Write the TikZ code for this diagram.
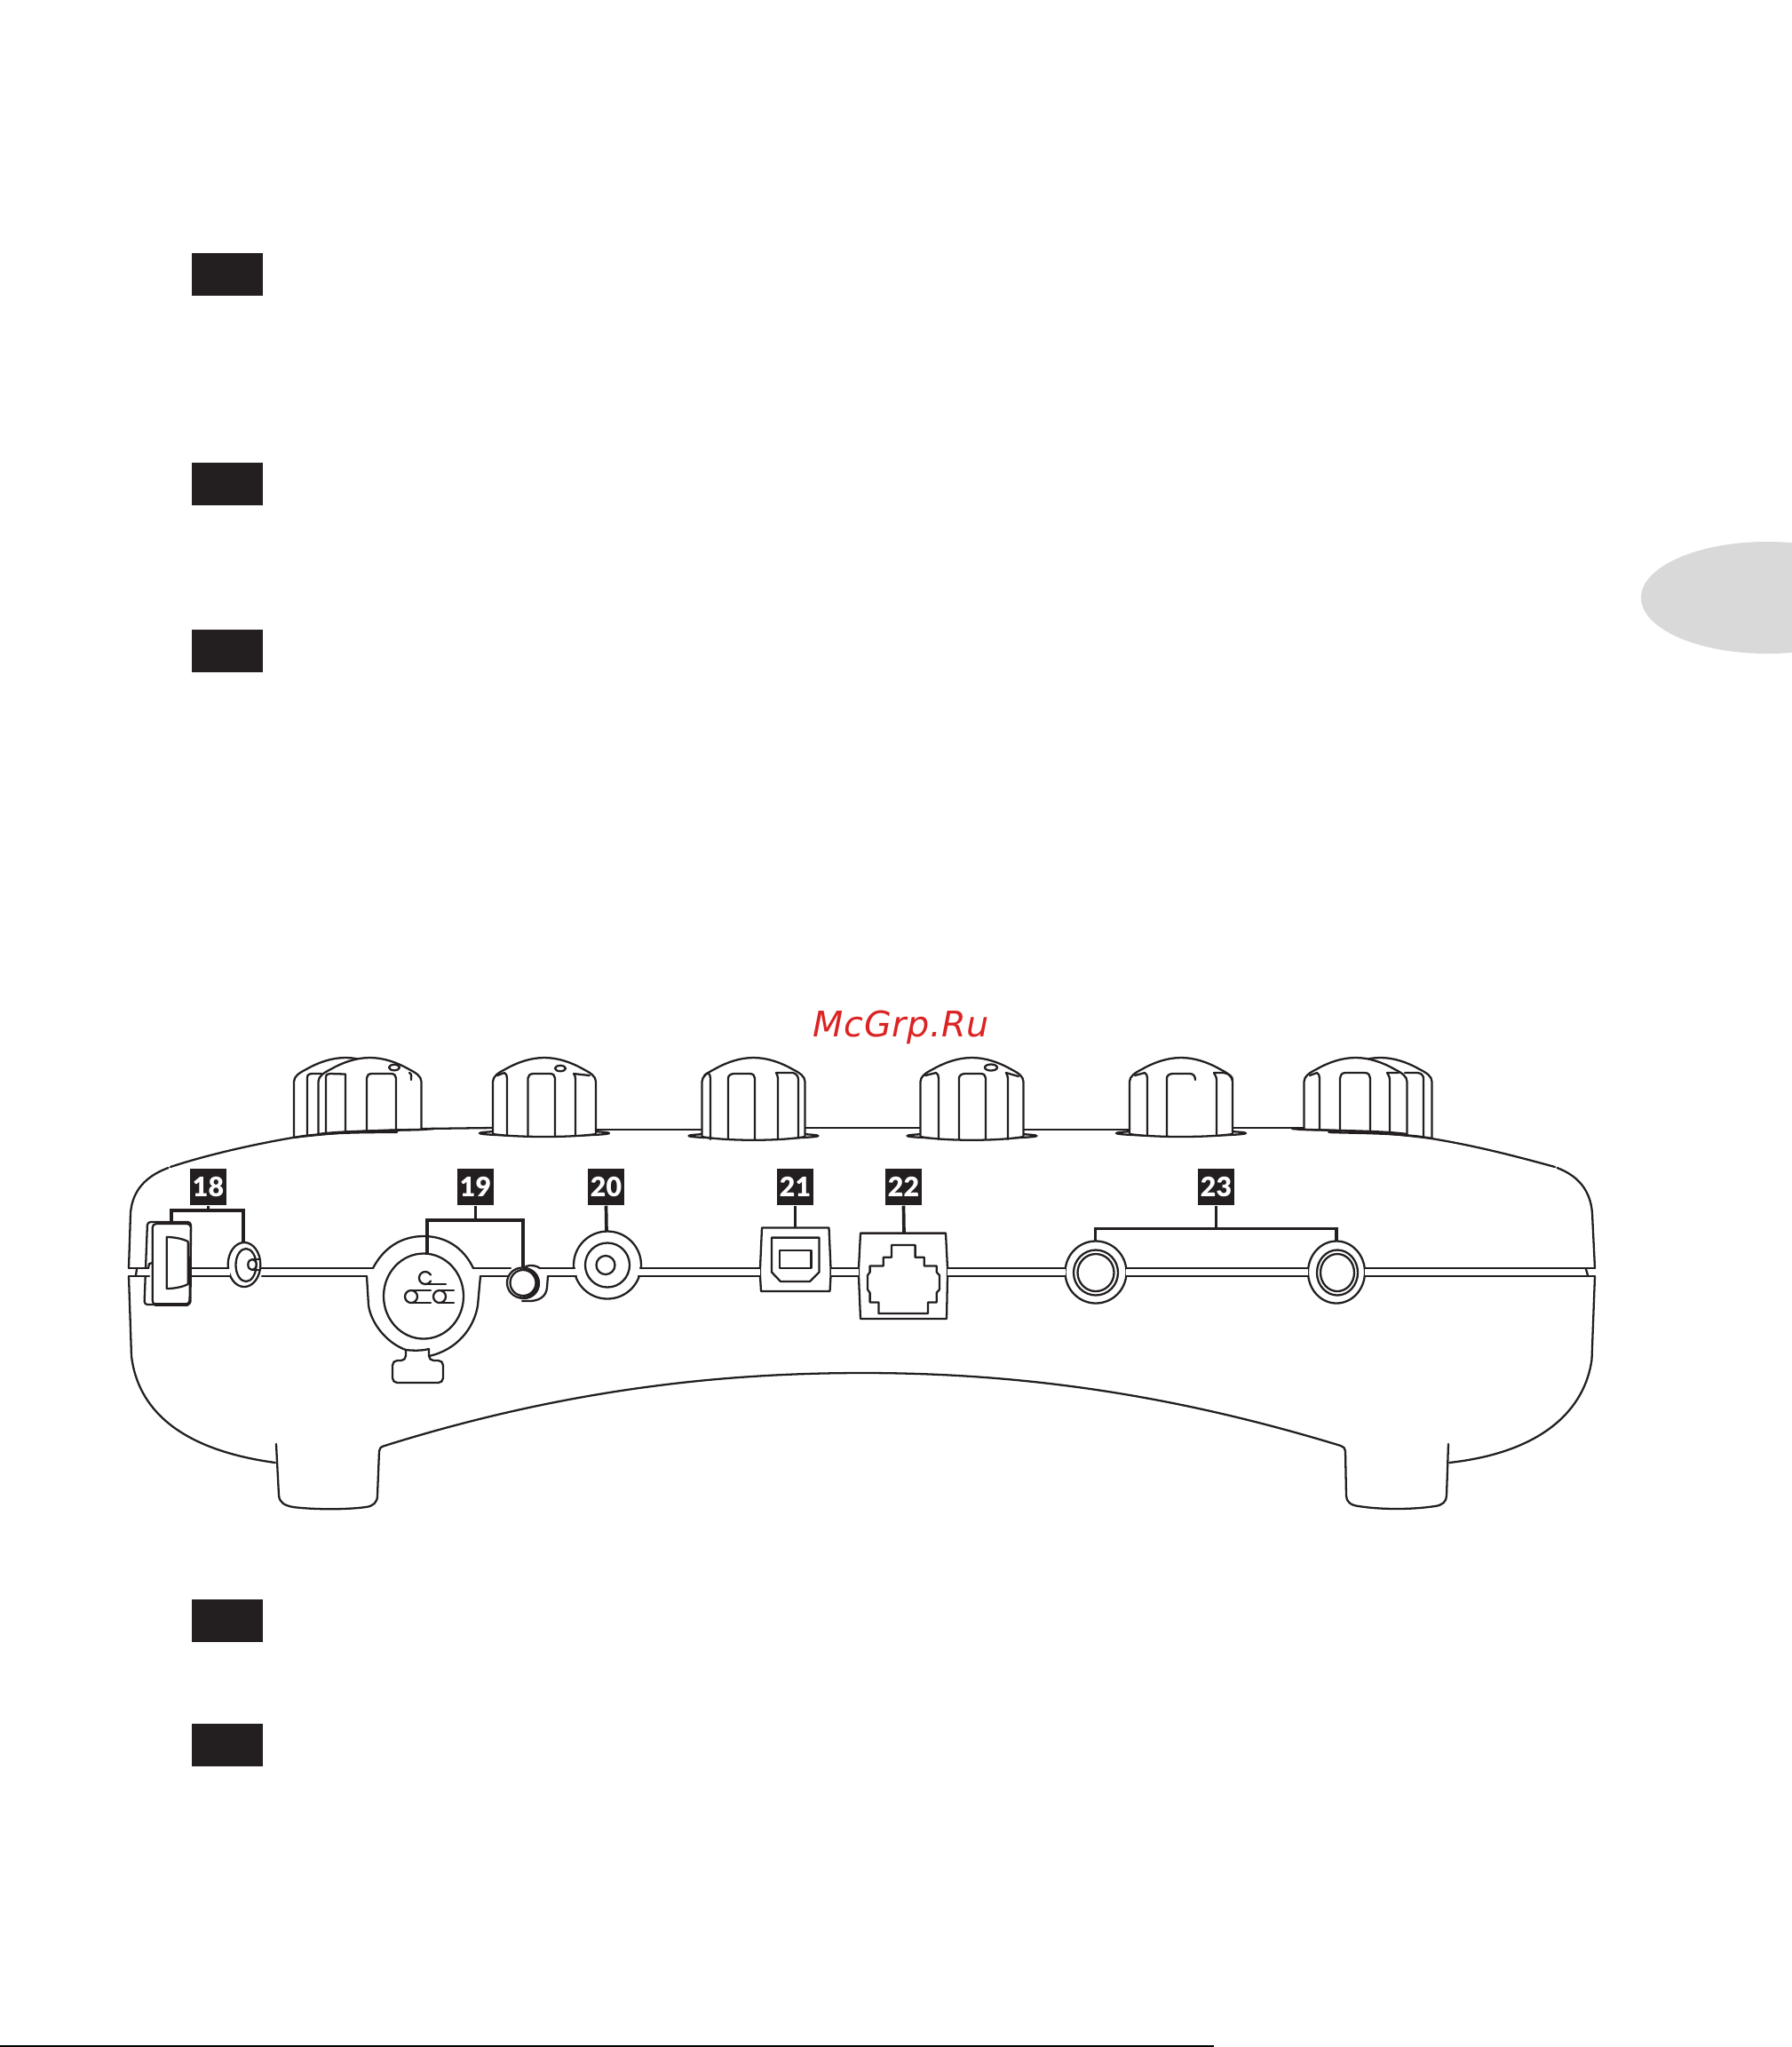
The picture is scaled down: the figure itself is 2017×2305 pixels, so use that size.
\documentclass[tikz,border=0pt]{standalone}
\usepackage{fontspec}
\setmainfont{Lato}
\newfontfamily\tagfont{Lato Black}
\newfontfamily\markfont[LetterSpace=1.6]{DejaVu Sans}
\definecolor{inkblack}{HTML}{231F20}
\definecolor{tabgray}{HTML}{D9D9D9}
\definecolor{markred}{HTML}{DC2323}
\tikzset{
  bodyline/.style={draw=inkblack, line width=0.65pt, line cap=round, line join=round},
  leadline/.style={draw=inkblack, line width=1.05pt},
  tagbox/.style={fill=inkblack, text=white, inner sep=0pt, minimum width=0.41cm, minimum height=0.41cm, font=\tagfont\fontsize{8.6}{9}\selectfont},
  blockbox/.style={fill=inkblack, inner sep=0pt, minimum width=0.8cm, minimum height=0.48cm},
}
% one knob around x=0, bottoms of left and right side, control height of the base
\newcommand{\knobbody}[3]{
  \draw[bodyline, fill=white] (-58,#1)--(-58,1218) .. controls (-58,1212) and (-52,1208) .. (-44,1204)
    .. controls (-30,1196) and (-15,1191) .. (0,1191) .. controls (15,1191) and (30,1196) .. (44,1204)
    .. controls (52,1208) and (58,1212) .. (58,1218)--(58,#2) .. controls (30,#3) and (-30,#3) .. (-58,#1);
}
\begin{document}
\begin{tikzpicture}[x=0.01cm, y=-0.01cm]
  \useasboundingbox (0,0) rectangle (2017,2305);
  \fill[tabgray] (1990,673) ellipse [x radius=142, y radius=63];
  \foreach \boxy in {309,545,733,1825,1965}
    \node[blockbox] (block\boxy) at (256,\boxy) {};
  \fill[black] (0,2303) rectangle (1367,2305);
  \node[anchor=base west, inner sep=0pt, text=markred, font=\markfont\itshape\fontsize{11.3}{13}\selectfont] (mark) at (915,1167) {McGrp.Ru};

  % back edge between the knobs
  \draw[bodyline] (475,1271)--(555,1270);
  \draw[bodyline] (671,1272)--(791,1272);
  \draw[bodyline] (906,1270)--(1037,1270);
  \draw[bodyline] (1152,1272)--(1272,1272);
  \draw[bodyline] (1388,1270)--(1468,1270);

  % double knob left
  \begin{scope}[shift={(389,0)}]
    \knobbody{1281}{1275}{1275}
  \end{scope}
  \draw[bodyline] (346,1279)--(346,1214) .. controls (346,1210) and (348,1209) .. (352,1209)--(362,1209);
  \begin{scope}[shift={(416.5,0)}]
    \knobbody{1277}{1272}{1273}
  \end{scope}
  \draw[bodyline] (367,1276)--(367,1212) .. controls (367,1210) and (369,1209) .. (372,1209)--(389,1209.5)--(389,1275);
  \draw[bodyline] (413,1273)--(413,1214) .. controls (413,1211) and (415,1209) .. (419,1209)--(440,1209) .. controls (444,1209) and (446,1211) .. (446,1214)--(446,1273);
  \draw[bodyline] (444,1202) ellipse [x radius=6, y radius=3.2];
  \draw[bodyline] (461,1208) .. controls (464,1209) and (463,1213) .. (463,1216);

  % double knob right
  \begin{scope}[shift={(1554.5,0)}]
    \knobbody{1275}{1282}{1276}
  \end{scope}
  \draw[bodyline] (1603,1281)--(1603,1214) .. controls (1603,1211) and (1600,1208) .. (1596,1208)--(1582,1208);
  \begin{scope}[shift={(1526.5,0)}]
    \knobbody{1272}{1277}{1273}
  \end{scope}
  \draw[bodyline] (1486,1272)--(1486,1214) .. controls (1486,1211) and (1485,1209) .. (1483,1208)--(1475,1211);
  \draw[bodyline] (1509,1274)--(1509,1214) .. controls (1509,1211) and (1511,1208) .. (1515,1208)--(1537,1208) .. controls (1541,1208) and (1543,1211) .. (1543,1214)--(1543,1275);
  \draw[bodyline] (1565,1276)--(1565,1216) .. controls (1565,1212) and (1563,1210) .. (1562,1208)--(1575,1208);

  % body top, sides, feet and arch
  \draw[bodyline] (489,1271)--(475,1272) .. controls (430,1272) and (380,1275) .. (330,1281) .. controls (300,1286) and (240,1298) .. (192,1314);
  \draw[bodyline] (189.5,1315) .. controls (165,1324) and (149,1340) .. (147,1366)--(145,1428);
  \draw[bodyline] (145,1437)--(148,1527) .. controls (155,1585) and (200,1632) .. (310,1647);
  \draw[bodyline] (1455,1271)--(1466,1272) .. controls (1500,1272) and (1560,1275) .. (1612,1282) .. controls (1660,1290) and (1700,1300) .. (1751,1314);
  \draw[bodyline] (1753.5,1315) .. controls (1777,1324) and (1791,1340) .. (1793,1366)--(1796,1428);
  \draw[bodyline] (1796,1437)--(1792.5,1531) .. controls (1785,1585) and (1740,1635) .. (1632,1647);
  \draw[bodyline] (311,1626)--(314,1684) .. controls (315,1692) and (320,1695) .. (330,1697) .. controls (355,1700) and (390,1700) .. (412,1697)
    .. controls (420,1696) and (425,1692) .. (425,1684)--(427,1634) .. controls (427,1631) and (429,1629) .. (433,1628)
    .. controls (650,1560) and (830,1546) .. (972,1546) .. controls (1150,1546) and (1320,1570) .. (1510,1628)
    .. controls (1513,1629) and (1515,1631) .. (1515,1634)--(1516,1684) .. controls (1516,1691) and (1521,1695) .. (1530,1696)
    .. controls (1555,1700) and (1590,1700) .. (1616,1696) .. controls (1624,1695) and (1629,1691) .. (1629,1684)--(1631,1626);

  % middle knobs
  \draw[bodyline, fill=white] (613,1276) ellipse [x radius=73, y radius=3];
  \begin{scope}[shift={(613,0)}]
    \knobbody{1277}{1277}{1281}
  \end{scope}
  \draw[bodyline] (571,1279)--(571,1214) .. controls (571,1211) and (570,1209) .. (568,1208)--(560,1211);
  \draw[bodyline] (594.5,1280)--(594.5,1214) .. controls (594.5,1211) and (597,1209) .. (601,1209)--(619,1209) .. controls (623,1209) and (625,1211) .. (625,1214)--(625,1280);
  \draw[bodyline] (648,1279)--(648,1216) .. controls (648,1212) and (647,1210) .. (646,1209)--(664,1211);
  \draw[bodyline] (631,1203) ellipse [x radius=6, y radius=3.2];

  \draw[bodyline, fill=white] (848.5,1279) ellipse [x radius=73, y radius=3];
  \begin{scope}[shift={(848.5,0)}]
    \knobbody{1280}{1280}{1285}
  \end{scope}
  \draw[bodyline] (800,1283)--(800,1214) .. controls (800,1211) and (799,1209) .. (797,1208)--(793,1211);
  \draw[bodyline] (820,1283)--(820,1214) .. controls (820,1211) and (823,1209) .. (827,1209)--(844,1209) .. controls (848,1209) and (850,1211) .. (850,1214)--(850,1283);
  \draw[bodyline] (876,1283)--(876,1214) .. controls (876,1212) and (875,1210) .. (874,1208)--(893,1208) .. controls (897,1209) and (899,1212) .. (899,1216)--(899,1281);

  \draw[bodyline, fill=white] (1094.5,1279) ellipse [x radius=73, y radius=3];
  \begin{scope}[shift={(1094.5,0)}]
    \knobbody{1280}{1280}{1285}
  \end{scope}
  \draw[bodyline] (1057,1283)--(1057,1214) .. controls (1057,1211) and (1056,1209) .. (1054,1208)--(1042,1211);
  \draw[bodyline] (1080,1283)--(1080,1214) .. controls (1080,1211) and (1083,1209) .. (1087,1209)--(1104,1209) .. controls (1108,1209) and (1110,1211) .. (1110,1214)--(1110,1283);
  \draw[bodyline] (1135,1283)--(1135,1216) .. controls (1135,1212) and (1134,1210) .. (1133,1208)--(1147,1212);
  \draw[bodyline] (1116,1202) ellipse [x radius=7, y radius=3.5];

  \draw[bodyline, fill=white] (1330,1276) ellipse [x radius=73, y radius=3];
  \begin{scope}[shift={(1330,0)}]
    \knobbody{1277}{1277}{1281}
  \end{scope}
  \draw[bodyline] (1292,1279)--(1292,1214) .. controls (1292,1211) and (1291,1209) .. (1289,1208)--(1278,1211);
  \draw[bodyline] (1314,1280)--(1314,1214) .. controls (1314,1211) and (1317,1209) .. (1321,1209)--(1340,1209) .. controls (1344,1209) and (1346,1212) .. (1346,1216);
  \draw[bodyline] (1370,1279)--(1370,1216) .. controls (1370,1212) and (1368,1211) .. (1367,1208)--(1378,1208) .. controls (1384,1209) and (1388,1212) .. (1388,1216);

  % power switch and jack
  \draw[bodyline, fill=white, rounded corners=1pt] (162.5,1469)--(166,1376)--(215,1376)--(214.5,1469)--cycle;
  \draw[bodyline, fill=white, rounded corners=1.2pt] (171.7,1469)--(171.7,1378)--(215,1378)--(213.5,1468.5)--cycle;
  \draw[bodyline, line width=1pt] (175,1469)--(211,1469);
  \draw[bodyline] (187.7,1451)--(187.7,1393) .. controls (197,1393) and (206,1395) .. (211.7,1398)--(211.7,1446) .. controls (206,1449) and (197,1451) .. (187.7,1451)--cycle;
  \draw[bodyline, fill=white] (275,1424) ellipse [x radius=18.3, y radius=25];
  \draw[bodyline] (277,1424.5) ellipse [x radius=11.5, y radius=18.5];
  \draw[bodyline, fill=white] (284,1424) ellipse [x radius=4.7, y radius=6];
  \draw[bodyline] (284,1418)--(292,1418) (284,1430)--(292,1430);

  % xlr socket
  \draw[bodyline] (420,1428) .. controls (432,1405) and (452,1392) .. (477,1392) .. controls (502,1392) and (522,1405) .. (533,1428);
  \draw[bodyline] (413,1437)--(415,1470) .. controls (418,1490) and (435,1512) .. (457,1520);
  \draw[bodyline] (541,1437)--(538,1470) .. controls (534,1495) and (515,1520) .. (483,1527);
  \draw[bodyline] (477,1459.5) ellipse [x radius=45, y radius=48];
  \draw[bodyline, rounded corners=1.5pt] (457,1520)--(457,1532)--(442,1532)--(442,1557)--(499,1557)--(499,1532)--(483,1532)--(483,1519);
  \draw[bodyline] (457,1520) .. controls (466,1521) and (475,1521) .. (483,1519);
  \draw[bodyline] (485,1442.5) arc (30:330:7);
  \draw[bodyline] (480,1445.7)--(502,1445.7);
  \draw[bodyline] (463,1460) circle [radius=7];
  \draw[bodyline] (495,1460) circle [radius=7];
  \draw[bodyline] (463,1452.7)--(485,1452.7) (463,1466.7)--(485,1466.7);
  \draw[bodyline] (495,1452.7)--(511,1452.7) (495,1466.7)--(511,1466.7);

  % round sockets
  \draw[bodyline, fill=white] (684,1424.5) circle [radius=38];
  \draw[bodyline] (684,1424.5) circle [radius=25];
  \draw[bodyline] (682,1424.5) circle [radius=10.5];
  \draw[bodyline, fill=white] (1234,1432.5) ellipse [x radius=34.5, y radius=35];
  \draw[bodyline] (1234,1433) ellipse [x radius=25, y radius=25.5];
  \draw[bodyline] (1234,1433) ellipse [x radius=20.5, y radius=21];
  \draw[bodyline, fill=white] (1505,1432.5) ellipse [x radius=32, y radius=35];
  \draw[bodyline] (1506,1433) ellipse [x radius=23, y radius=25.5];
  \draw[bodyline] (1506,1433) ellipse [x radius=19, y radius=21];

  % usb socket
  \draw[bodyline, fill=white] (858,1382.5)--(933.5,1382.5)--(935.5,1428)--(935.5,1437)--(934.5,1454)--(857,1454)--(856,1437)--(856,1428)--cycle;
  \draw[bodyline] (869,1393.6)--(922.5,1393.6)--(922.5,1432.5)--(912,1443)--(879,1443)--(869,1432.5)--cycle;
  \draw[bodyline] (878,1408) rectangle (913.5,1428);

  % rj socket
  \draw[bodyline, fill=white] (969,1388.6)--(1065,1388.6)--(1067,1428)--(1067,1437)--(1066,1485)--(969,1485)--(967,1437)--(967,1428)--cycle;
  \draw[bodyline] (1004,1402)--(1030.6,1402)--(1030.6,1415.7)--(1040.8,1415.7)--(1040.8,1425.4)--(1054.7,1425.4)--(1054.7,1432.5)--(1058,1436)--(1058,1452)--(1054.7,1455.7)--(1054.7,1466.4)--(1045,1466.4)--(1045,1479)--(989.4,1479)--(989.4,1466.4)--(979.6,1466.4)--(979.6,1455.7)--(977,1452)--(977,1436)--(979.6,1432.5)--(979.6,1425.4)--(994.7,1425.4)--(994.7,1415.7)--(1004,1415.7)--cycle;

  % seam between the shells
  \foreach \ua/\ub/\la/\lb in {145/167/145/168, 216/257/216/259, 293/420/295/413, 533/575/541/573, 608/647/617/649,
      721/856/719/856, 936/967/936/967, 1067/1200/1067/1200, 1268/1473/1268/1473, 1537/1796/1537/1796}{
    \fill[white] (\la,1429) rectangle (\lb,1436);
    \draw[bodyline] (\ua,1428)--(\ub,1428) (\la,1437)--(\lb,1437);
  }
  \draw[bodyline] (154,1429)--(153,1436);
  \draw[bodyline] (167,1428)--(168,1423)--(172,1422);
  \draw[bodyline] (1786,1429)--(1788,1436);

  % small jack on top of the seam
  \draw[bodyline] (592,1426) .. controls (598,1424) and (604,1425) .. (608,1428);
  \draw[bodyline] (617,1437)--(616,1450) .. controls (615,1460) and (607,1465) .. (596,1465)--(588,1465);
  \draw[bodyline, fill=white] (590,1445) circle [radius=17];
  \draw[bodyline, fill=white] (588,1444.5) circle [radius=17];
  \draw[bodyline] (589,1444.5) circle [radius=14.5];

  % number tags and their leads
  \node[tagbox] (tag18) at (234.5,1336.5) {18};
  \node[tagbox] (tag19) at (535.5,1336.5) {19};
  \node[tagbox] (tag20) at (682.5,1336.5) {20};
  \node[tagbox] (tag21) at (895.5,1336.5) {21};
  \node[tagbox] (tag22) at (1017.5,1336.5) {22};
  \node[tagbox] (tag23) at (1369.5,1336.5) {23};
  \coordinate (switchtop) at (193,1376);
  \coordinate (powertop) at (274,1399);
  \coordinate (xlrtop) at (481,1411);
  \coordinate (smalltop) at (589,1427);
  \coordinate (spdiftop) at (683,1387);
  \coordinate (usbtop) at (895.5,1382.5);
  \coordinate (rjtop) at (1018,1388.6);
  \coordinate (lefttop) at (1233.5,1397.5);
  \coordinate (righttop) at (1505,1397.5);
  \coordinate (bar18) at (234.5,1362.7);
  \coordinate (bar19) at (535.5,1374);
  \coordinate (bar23) at (1369.5,1383.6);
  \draw[leadline] (tag18.south)--(bar18);
  \draw[leadline] (switchtop) |- (bar18) -| (powertop);
  \draw[leadline] (tag19.south)--(bar19);
  \draw[leadline] (xlrtop) |- (bar19) -| (smalltop);
  \draw[leadline] (tag20.south)--(spdiftop);
  \draw[leadline] (tag21.south)--(usbtop);
  \draw[leadline] (tag22.south)--(rjtop);
  \draw[leadline] (tag23.south)--(bar23);
  \draw[leadline] (lefttop) |- (bar23) -| (righttop);
\end{tikzpicture}
\end{document}
